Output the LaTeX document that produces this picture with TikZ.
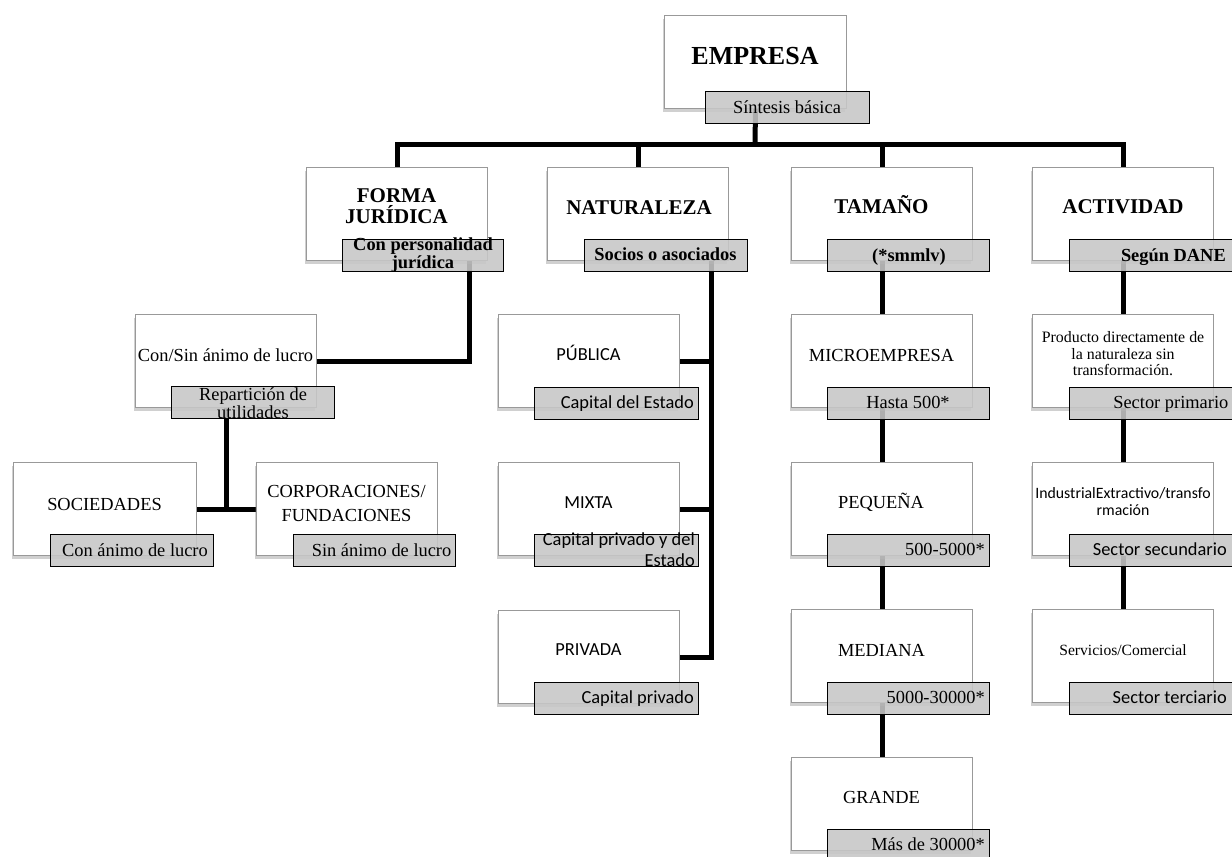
\documentclass[tikz,border=0pt]{standalone}
\usepackage{fontspec}
\setmainfont{Liberation Serif}
\newfontfamily\calibri{Carlito}
\usetikzlibrary{shadows}
\pgfdeclarelayer{bg}
\pgfdeclarelayer{paper}
\pgfsetlayers{paper,bg,main}
\begin{document}
\begin{tikzpicture}[x=1pt,y=-1pt,
  box/.style={draw=black!40, line width=1pt, fill=white, minimum width=181pt, minimum height=93pt,
    inner sep=0pt, anchor=north west,
    drop shadow={shadow xshift=-1.5pt,shadow yshift=-3pt,opacity=0.3,fill=black!60}},
  lab/.style={draw=black, line width=1.2pt, fill=black!22, fill opacity=0.88, minimum width=163pt,
    minimum height=32pt, inner sep=0pt, anchor=north west},
  conn/.style={line width=5pt, line join=miter},
  big/.style={inner sep=0pt, font=\bfseries\fontsize{26}{26}\selectfont},
  hd/.style={inner sep=0pt, align=center, font=\bfseries\fontsize{21}{21}\selectfont},
  hl/.style={inner sep=0pt, align=center, font=\bfseries\fontsize{18.4}{18}\selectfont},
  tx/.style={inner sep=0pt, font=\fontsize{18.4}{18}\selectfont},
  cb/.style={inner sep=0pt, font=\calibri\fontsize{18.4}{21}\selectfont}
]
\begin{pgfonlayer}{paper}
\path[fill=white] (0,0) rectangle (1232,857);
\end{pgfonlayer}
\useasboundingbox (0,0) rectangle (1232,857);

% boxes
\node[box, minimum width=182pt] (emp) at (664,15) {};
\node[box] (forma) at (306,167) {};
\node[box] (nat) at (547,167) {};
\node[box] (tam) at (791,167) {};
\node[box] (act) at (1032,167) {};
\node[box] (consin) at (135,314) {};
\node[box, minimum width=183pt] (soc) at (13,462) {};
\node[box] (corp) at (256,462) {};
\node[box] (pub) at (498,314) {};
\node[box] (mix) at (498,462) {};
\node[box] (priv) at (498,610) {};
\node[box] (micro) at (791,314) {};
\node[box] (peq) at (791,462) {};
\node[box] (med) at (791,609) {};
\node[box] (gr) at (791,757) {};
\node[box] (a1) at (1032,314) {};
\node[box] (a2) at (1032,462) {};
\node[box] (a3) at (1032,609) {};

% labels
\node[lab, minimum width=164pt] (empL) at (705,91) {};
\node[lab, minimum width=161pt] (formaL) at (342,239) {};
\node[lab] (natL) at (584,239) {};
\node[lab, minimum width=162pt] (tamL) at (827,239) {};
\node[lab] (actL) at (1069,239) {};
\node[lab] (consinL) at (171,386) {};
\node[lab] (socL) at (50,534) {};
\node[lab, minimum width=162pt] (corpL) at (293,534) {};
\node[lab, minimum width=164pt] (pubL) at (534,387) {};
\node[lab, minimum width=164pt] (mixL) at (534,534) {};
\node[lab, minimum width=164pt] (privL) at (534,682) {};
\node[lab, minimum width=162pt] (microL) at (827,387) {};
\node[lab, minimum width=162pt] (peqL) at (827,534) {};
\node[lab, minimum width=162pt] (medL) at (827,682) {};
\node[lab, minimum width=162pt] (grL) at (827,829) {};
\node[lab] (a1L) at (1069,387) {};
\node[lab] (a2L) at (1069,534) {};
\node[lab] (a3L) at (1069,682) {};

% texts
\node[big, anchor=base] (empT) at (755,64) {EMPRESA};
\node[tx, anchor=base] (empLT) at (787,113) {Síntesis básica};
\node[hd] (formaT) at (396.5,206) {FORMA\\JURÍDICA};
\node[hd, anchor=base] (natT) at (639,214) {NATURALEZA};
\node[hd, anchor=base] (tamT) at (881.5,213) {TAMAÑO};
\node[hd, anchor=base] (actT) at (1123,213) {ACTIVIDAD};
\node[hl] (formaLT) at (423,255) {Con personalidad\\jurídica};
\node[hl, anchor=base] (natLT) at (665.5,260) {Socios o asociados};
\node[hl, anchor=base] (tamLT) at (909,261) {(*smmlv)};
\node[hl, anchor=base east] (actLT) at (1226,261) {Según DANE};

\node[tx, anchor=base] (consinT) at (225.5,361) {Con/Sin ánimo de lucro};
\node[tx, align=center, font=\fontsize{18.4}{16.6}\selectfont] (consinLT) at (253,403) {Repartición de\\utilidades};
\node[tx, anchor=base] (socT) at (104.5,510) {SOCIEDADES};
\node[tx, anchor=base east] (socLT) at (208,556.5) {Con ánimo de lucro};
\node[tx, align=center, font=\fontsize{18.4}{24}\selectfont] (corpT) at (346.5,503.5) {CORPORACIONES/\\FUNDACIONES};
\node[tx, anchor=base east] (corpLT) at (451.5,556.5) {Sin ánimo de lucro};

\node[cb, anchor=base] (pubT) at (588.5,360) {PÚBLICA};
\node[cb, anchor=base east] (pubLT) at (694,408) {Capital del Estado};
\node[cb, anchor=base] (mixT) at (588.5,508) {MIXTA};
\node[cb, align=right, anchor=east] (mixLT) at (695,549.5) {Capital privado y del\\Estado};
\node[cb, anchor=base] (privT) at (588.5,655) {PRIVADA};
\node[cb, anchor=base east] (privLT) at (694,703) {Capital privado};

\node[tx, anchor=base] (microT) at (881.5,361.5) {MICROEMPRESA};
\node[tx, anchor=base] (microLT) at (908,408) {Hasta 500*};
\node[tx, anchor=base] (peqT) at (881,508) {PEQUEÑA};
\node[tx, anchor=base east] (peqLT) at (985,555) {500-5000*};
\node[tx, anchor=base] (medT) at (881.5,656.5) {MEDIANA};
\node[tx, anchor=base east] (medLT) at (985,703) {5000-30000*};
\node[tx, anchor=base] (grT) at (881.5,803) {GRANDE};
\node[tx, anchor=base east] (grLT) at (985,850) {Más de 30000*};

\node[inner sep=0pt, align=center, font=\fontsize{15.9}{16.5}\selectfont] (a1T) at (1123,354) {Producto directamente de\\la naturaleza sin\\transformación.};
\node[tx, anchor=base east] (a1LT) at (1228.5,408) {Sector primario};
\node[inner sep=0pt, align=center, font=\calibri\fontsize{15.8}{17.7}\selectfont] (a2T) at (1123,501.5) {IndustrialExtractivo/transfo\\rmación};
\node[cb, anchor=base east] (a2LT) at (1227,555) {Sector secundario};
\node[inner sep=0pt, font=\fontsize{15.6}{16}\selectfont, anchor=base] (a3T) at (1123,655) {Servicios/Comercial};
\node[cb, anchor=base east] (a3LT) at (1227,703) {Sector terciario};

% connectors
\begin{pgfonlayer}{bg}
\coordinate (bar) at (755,144);
\coordinate (fj) at (469,360);
\coordinate (nc) at (711,360);
\draw[conn] (emp.south) -- (bar);
\draw[conn] (forma.north) |- (bar) -| (act.north);
\draw[conn] (nat.north) -- (nat.north |- bar);
\draw[conn] (tam.north) -- (tam.north |- bar);
\draw[conn] (forma.south -| fj) |- (consin.east);
\draw[conn] (consin.south) -- (consin.south |- soc.east);
\draw[conn] (soc.east) -- (corp.west);
\draw[conn] (nat.south -| nc) |- (priv.east);
\draw[conn] (pub.east) -- (pub.east -| nc);
\draw[conn] (mix.east) -- (mix.east -| nc);
\draw[conn] (tam.south) -- (gr.north);
\draw[conn] (act.south) -- (a3.north);
\end{pgfonlayer}
\end{tikzpicture}
\end{document}
